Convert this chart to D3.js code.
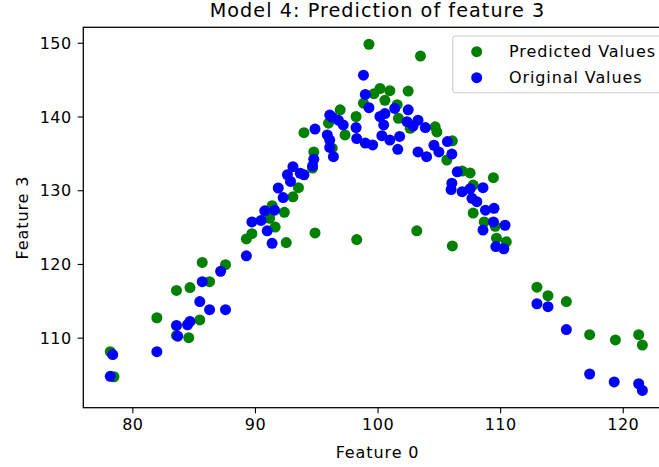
<!DOCTYPE html>
<html>
<head>
<meta charset="utf-8">
<script src="https://cdn.jsdelivr.net/npm/d3@7"></script>
<style>
  html, body { margin: 0; padding: 0; background: #fff; }
  svg { display: block; font-family: "DejaVu Sans", sans-serif; }
</style>
</head>
<body>
<svg id="chart" width="659" height="467"></svg>
<script>
// ---- data ----
const predictedX = [78.2, 78.5, 82.0, 83.6, 83.6, 84.6, 84.7, 85.5, 85.7, 86.3, 87.6,
  89.3, 89.75, 91.2, 91.4, 91.65, 92.4, 92.55, 93.1, 93.55, 94.7, 94.8, 94.9, 94.0,
  96.0, 96.3, 96.95, 97.35, 98.25, 98.3, 98.85, 99.3, 99.7, 100.2, 101.0, 102.5, 100.6,
  101.6, 101.7, 102.66, 103.5, 103.2, 104.7, 104.84, 105.65, 106.1, 106.1, 106.9, 107.55,
  107.8, 107.8, 108.7, 109.45, 109.6, 109.7, 110.5, 113.0, 113.9, 115.4, 117.3, 119.4,
  121.3, 121.6];
const predictedY = [108.1, 104.7, 112.7, 116.4, 110.3, 110.0, 116.8, 112.4, 120.2, 117.6, 119.9,
  123.4, 124.1, 126.2, 127.9, 125.0, 127.0, 122.9, 129.1, 130.35, 133.0, 135.2, 124.2, 137.8,
  139.1, 135.7, 140.9, 137.5, 140.0, 123.3, 141.8, 149.8, 143.1, 143.8, 143.5, 143.45, 142.2,
  141.6, 139.75, 138.4, 148.2, 124.5, 138.6, 137.9, 134.1, 136.7, 122.45, 132.6, 132.35,
  130.7, 126.9, 125.7, 131.7, 125.1, 123.5, 123.0, 116.85, 115.7, 114.9, 110.4, 109.7,
  110.4, 109.0];

const originalX = [78.2, 78.4, 82.0, 83.6, 83.7, 84.5, 84.7, 85.5, 85.7, 86.3, 87.6, 87.2,
  89.3, 89.75, 90.5, 90.8, 91.0, 91.4, 91.6, 91.9, 92.3, 92.65, 92.9, 93.1, 93.7, 94.0,
  94.7, 94.8, 94.9, 95.9, 96.1, 96.1, 96.4, 96.1, 96.3, 96.8, 97.2, 98.25, 98.3, 98.85,
  99.0, 99.3, 99.0, 99.6, 100.2, 100.6, 100.5, 100.35, 101.0, 101.4, 101.8, 101.65, 102.5,
  102.4, 102.9, 103.3, 103.9, 103.3, 104.0, 104.6, 105.0, 105.7, 106.06, 106.5, 106.06,
  106.0, 106.9, 107.55, 108.6, 107.7, 108.1, 108.8, 109.5, 109.45, 110.4, 108.6, 109.65,
  110.3, 113.0, 113.9, 115.4, 117.3, 119.3, 121.3, 121.6];
const originalY = [104.75, 107.7, 108.1, 111.65, 110.2, 111.75, 112.2, 114.9, 117.6, 113.8, 113.8, 119.0,
  121.1, 125.7, 125.9, 127.2, 124.5, 122.8, 127.3, 130.3, 129.0, 132.1, 131.2, 133.2, 132.3, 132.1,
  133.3, 134.2, 138.3, 137.5, 136.8, 135.8, 134.55, 140.2, 139.9, 139.5, 138.85, 138.5, 137.0, 145.6,
  143.0, 141.2, 136.4, 136.15, 140.0, 140.4, 138.85, 137.4, 136.8, 141.1, 137.3, 135.55, 140.9,
  139.3, 138.7, 139.5, 138.5, 135.2, 134.55, 136.1, 135.2, 136.6, 134.9, 132.5, 130.95,
  130.1, 129.8, 130.2, 130.35, 128.9, 128.45, 127.3, 127.55, 125.7, 125.25, 124.6, 122.35,
  122.05, 114.6, 114.2, 111.1, 105.07, 104.0, 103.75, 102.85];

const xTicks = [80, 90, 100, 110, 120];
const yTicks = [110, 120, 130, 140, 150];
const seriesNames = ["Predicted Values", "Original Values"];
const seriesColors = ["green", "blue"];
const titleText = "Model 4: Prediction of feature 3";
const xLabel = "Feature 0";
const yLabel = "Feature 3";

// ---- layout ----
const L = 83.3, R = 671.8, T = 27.3, B = 407.7;
const svg = d3.select("#chart");
const x = d3.scaleLinear().domain([76, 124]).range([L, R]);
const y = d3.scaleLinear().domain([100.5, 152.1]).range([B, T]);
const r = 5.5;

const pred = predictedX.map((v, i) => ({x: v, y: predictedY[i]}));
const orig = originalX.map((v, i) => ({x: v, y: originalY[i]}));

const plot = svg.append("g");
plot.selectAll("circle.p").data(pred).enter().append("circle")
  .attr("class", "p").attr("cx", d => x(d.x)).attr("cy", d => y(d.y))
  .attr("r", r).attr("fill", seriesColors[0]);
plot.selectAll("circle.o").data(orig).enter().append("circle")
  .attr("class", "o").attr("cx", d => x(d.x)).attr("cy", d => y(d.y))
  .attr("r", r).attr("fill", seriesColors[1]);

// axes
const xAxis = svg.append("g").attr("transform", `translate(0,${B})`)
  .call(d3.axisBottom(x).tickValues(xTicks).tickSize(5.6).tickPadding(5).tickFormat(d3.format("d")));
const yAxis = svg.append("g").attr("transform", `translate(${L},0)`)
  .call(d3.axisLeft(y).tickValues(yTicks).tickSize(5.6).tickPadding(6).tickFormat(d3.format("d")));
[xAxis, yAxis].forEach(a => {
  a.select(".domain").remove();
  a.selectAll(".tick line").attr("stroke", "#000").attr("stroke-width", 1.1);
  a.selectAll(".tick text").attr("fill", "#000").style("font-size", "16px")
    .style("letter-spacing", "0.5px")
    .style("font-family", "DejaVu Sans, sans-serif");
});
yAxis.selectAll(".tick text").attr("dy", "0.36em");

// spines
svg.append("rect").attr("x", L).attr("y", T).attr("width", R - L).attr("height", B - T)
  .attr("fill", "none").attr("stroke", "#000").attr("stroke-width", 1.28);

// title and labels
svg.append("text").attr("x", (L + R) / 2).attr("y", 17).attr("text-anchor", "middle")
  .style("font-size", "19.2px").style("letter-spacing", "1.05px").text(titleText);
svg.append("text").attr("x", (L + R) / 2).attr("y", 458).attr("text-anchor", "middle")
  .style("font-size", "16px").style("letter-spacing", "0.9px").text(xLabel);
svg.append("text").attr("transform", `translate(28,${(T + B) / 2}) rotate(-90)`)
  .attr("text-anchor", "middle").style("font-size", "16px").style("letter-spacing", "0.9px").text(yLabel);

// legend
const lg = svg.append("g");
lg.append("rect").attr("x", 452.7).attr("y", 36).attr("width", 212).attr("height", 56.7)
  .attr("rx", 3.5).attr("fill", "#fff").attr("fill-opacity", 0.8)
  .attr("stroke", "#cccccc").attr("stroke-width", 1.1);
seriesNames.forEach((name, i) => {
  const cy = 51.7 + i * 26;
  lg.append("circle").attr("cx", 476.7).attr("cy", cy).attr("r", r).attr("fill", seriesColors[i]);
  lg.append("text").attr("x", 509).attr("y", cy + 5.7).style("font-size", "16px")
    .style("letter-spacing", "0.9px").text(name);
});
</script>
</body>
</html>
